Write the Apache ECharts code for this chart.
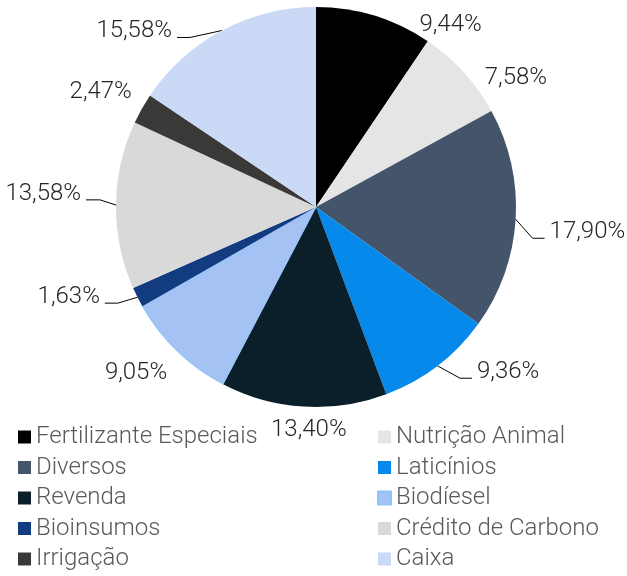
<!DOCTYPE html>
<html>
<head>
<meta charset="utf-8">
<script src="https://cdn.jsdelivr.net/npm/echarts@6/dist/echarts.min.js"></script>
<style>
    html, body { margin: 0; padding: 0; background: #fff; }
    #chart { width: 627px; height: 576px; }
</style>
</head>
<body>
<div id="chart"></div>
<script>
// dados
const categories = ['Fertilizante Especiais', 'Nutrição Animal', 'Diversos', 'Laticínios', 'Revenda',
    'Biodíesel', 'Bioinsumos', 'Crédito de Carbono', 'Irrigação', 'Caixa'];
const values = [9.44, 7.58, 17.90, 9.36, 13.40, 9.05, 1.63, 13.58, 2.47, 15.58];
const colors = ['#000000', '#e5e5e5', '#44546a', '#0589ea', '#0a1f2a',
    '#a4c2f4', '#123b80', '#d9d9d9', '#3b3838', '#c9d9f6'];

// posição dos rótulos (linha guia + deslocamento)
const lineShow = [false, false, true, true, false, false, true, true, false, true];
const lineLen = [0, 0, 17, 37, 0, 0, 22, 16, 0, 68];
const lineLen2 = [0, 0, 12, 12, 0, 0, 13, 14, 0, 13];
const labelShift = [[40, 15], [16, 12], [0, 18], [0, -17], [48, 29],
    [-5, 28], [0, -4], [0, -5], [-5, -11], [0, 67]];
const textLift = 6; // texto fica acima da linha guia

const chart = echarts.init(document.getElementById('chart'));

const pieData = categories.map((name, i) => {
    const item = {
        name,
        value: values[i],
        itemStyle: {color: colors[i]},
        labelLine: {show: lineShow[i], length: lineLen[i], length2: lineLen2[i]}
    };
    if (name === 'Biodíesel') {
        item.itemStyle.borderColor = '#8cc4fa';
        item.itemStyle.borderWidth = 1;
    }
    return item;
});

function legendConfig(names, left) {
    return {
        orient: 'vertical',
        left,
        top: 420,
        height: 160,
        itemWidth: 13,
        itemHeight: 13,
        itemGap: 6.5,
        icon: 'rect',
        selectedMode: false,
        data: names,
        textStyle: {
            fontFamily: 'Roboto',
            fontWeight: 300,
            fontSize: 24,
            color: '#595959'
        }
    };
}

chart.setOption({
    animation: false,
    legend: [
        legendConfig(categories.filter((_, i) => i % 2 === 0), 13),
        legendConfig(categories.filter((_, i) => i % 2 === 1), 372)
    ],
    series: [{
        type: 'pie',
        center: [316, 207],
        radius: 200,
        startAngle: 90,
        avoidLabelOverlap: false,
        label: {
            position: 'outside',
            fontFamily: 'Roboto',
            fontWeight: 300,
            fontSize: 24,
            color: '#262626',
            padding: [0, 0, 26, 0],
            formatter: p => p.value.toFixed(2).replace('.', ',') + '%'
        },
        labelLine: {
            lineStyle: {color: '#000', width: 1}
        },
        labelLayout: function (p) {
            const off = labelShift[p.dataIndex];
            const r = p.labelRect;
            const ax = p.align === 'right' ? r.x + r.width : r.x;
            const ay = r.y + r.height / 2;
            const out = {
                x: ax + off[0],
                y: ay + off[1] - textLift,
                align: p.align,
                verticalAlign: 'middle'
            };
            if (p.labelLinePoints && lineShow[p.dataIndex]) {
                out.labelLinePoints = p.labelLinePoints.map((pt, i) =>
                    i === 0 ? pt : [pt[0] + off[0], pt[1] + off[1]]);
            }
            return out;
        },
        emphasis: {disabled: true},
        data: pieData
    }]
});
</script>
</body>
</html>
